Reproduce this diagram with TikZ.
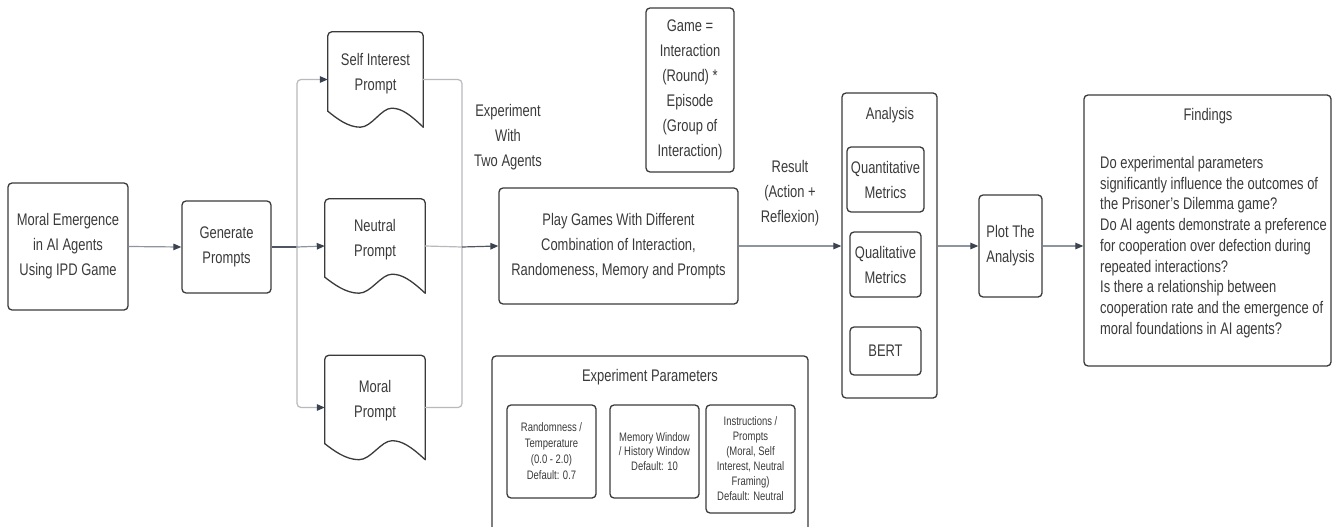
\documentclass[tikz,border=0pt]{standalone}
\usepackage{fontspec}
\setmainfont[FakeStretch=0.77]{Liberation Sans}
\usetikzlibrary{arrows.meta,calc}
\definecolor{ink}{HTML}{3A3A3A}
\definecolor{conn}{HTML}{8E959E}
\definecolor{dconn}{HTML}{4F5661}
\definecolor{lconn}{HTML}{B8B9BD}
\definecolor{tipc}{HTML}{3B4350}
\newcommand\docout[1]{%
  \draw[docline,rounded corners=4pt] ($(#1.south west)+(0,-16)$) -- (#1.north west) -- (#1.north east) -- (#1.south east);
  \draw[docline] (#1.south east)
    .. controls ($(#1.south west)!0.86!(#1.south east)+(0,-13)$) and ($(#1.south west)!0.77!(#1.south east)+(0,-19)$) .. ($(#1.south west)!0.67!(#1.south east)+(0,-19)$)
    .. controls ($(#1.south west)!0.56!(#1.south east)+(0,-19)$) and ($(#1.south west)!0.46!(#1.south east)$) .. ($(#1.south west)!0.34!(#1.south east)$)
    .. controls ($(#1.south west)!0.21!(#1.south east)$) and ($(#1.south west)!0.09!(#1.south east)+(0,-9)$) .. ($(#1.south west)+(0,-16)$);}
\begin{document}
\begin{tikzpicture}[x=1pt,y=-1pt,
  txt/.style={text=ink,align=center,inner sep=0pt,font=\fontsize{16.8}{25}\selectfont},
  box/.style={txt,draw=ink,line width=1.3pt,rounded corners=4pt},
  smallbox/.style={box,font=\fontsize{12.3}{15}\selectfont},
  docn/.style={inner sep=0pt,draw=none},
  docline/.style={draw=ink,line width=1.3pt,line cap=round},
  arr/.style={-{Triangle[length=8pt,width=6.5pt,color=tipc,fill=tipc]}},
  cn/.style={draw=conn,line width=1.2pt},
  dcn/.style={draw=dconn,line width=1.2pt},
  lcn/.style={draw=lconn,line width=1.2pt,rounded corners=4pt}
]
\useasboundingbox (0,0) rectangle (1333,527);

% main flow boxes
\node[box,minimum width=120pt,minimum height=127pt] (me) at (68,246.5) {Moral Emergence\\in AI Agents\\Using IPD Game};
\node[box,minimum width=89pt,minimum height=92pt] (gp) at (226.5,247) {Generate\\Prompts};

% prompt documents
\node[docn,minimum width=95pt,minimum height=95pt,label={[txt,yshift=6pt]center:{Self Interest\\Prompt}}] (si) at (375.5,79.5) {};
\node[docn,minimum width=100pt,minimum height=94pt,label={[txt,yshift=6pt]center:{Neutral\\Prompt}}] (np) at (375,246) {};
\node[docn,minimum width=100pt,minimum height=104pt,label={[txt,yshift=7pt]center:{Moral\\Prompt}}] (mp) at (375,407.5) {};
\docout{si}
\docout{np}
\docout{mp}

\coordinate (j1) at (297,247);
\coordinate (j2) at (462,247);

\node[txt] (lblexp) at (508,137) {Experiment\\With\\Two Agents};
\node[box,minimum width=88pt,minimum height=164pt] (game) at (690,90) {Game =\\Interaction\\(Round) *\\Episode\\(Group of\\Interaction)};
\node[box,minimum width=239pt,minimum height=116pt] (play) at (618.5,246) {Play Games With Different\\Combination of Interaction,\\Randomeness, Memory and Prompts};
\node[txt] (lblres) at (790,193) {Result\\(Action +\\Reflexion)};

% analysis
\node[box,minimum width=95pt,minimum height=305pt] (ana) at (889.5,245.5) {};
\node[txt] (anat) at (890,115) {Analysis};
\node[box,minimum width=77pt,minimum height=65pt] (quant) at (885.5,179.5) {Quantitative\\Metrics};
\node[box,minimum width=71pt,minimum height=65pt] (qual) at (885.5,264.5) {Qualitative\\Metrics};
\node[box,minimum width=71pt,minimum height=48pt] (bert) at (885.5,351) {BERT};

\node[box,minimum width=63pt,minimum height=102pt] (plot) at (1010.5,246) {Plot The\\Analysis};

% findings
\node[box,minimum width=247pt,minimum height=271pt] (fd) at (1207.5,230.5) {};
\node[txt] (fdt) at (1208,116) {Findings};
\node[txt,align=left,anchor=west,font=\fontsize{16.8}{20.7}\selectfont] (fdb) at (1100,247) {Do experimental parameters\\significantly influence the outcomes of\\the Prisoner's Dilemma game?\\Do AI agents demonstrate a preference\\for cooperation over defection during\\repeated interactions?\\Is there a relationship between\\cooperation rate and the emergence of\\moral foundations in AI agents?};

% experiment parameters (container runs off the bottom edge)
\coordinate (pbl) at (492,527);
\coordinate (pbr) at (808,527);
\draw[draw=ink,line width=1.3pt,rounded corners=4pt] (pbl) |- (808,356) -- (pbr);
\node[txt] (part) at (650,377) {Experiment Parameters};
\node[smallbox,minimum width=89pt,minimum height=93pt,font=\fontsize{12.3}{16}\selectfont] (p1) at (551.5,451.5) {Randomness /\\Temperature\\(0.0 - 2.0)\\Default: 0.7};
\node[smallbox,minimum width=89pt,minimum height=93pt,font=\fontsize{12.3}{14.5}\selectfont] (p2) at (654.5,451.5) {Memory Window\\/ History Window\\Default: 10};
\node[smallbox,minimum width=89pt,minimum height=108pt] (p3) at (750.5,459) {Instructions /\\Prompts\\(Moral, Self\\Interest, Neutral\\Framing)\\Default: Neutral};

% connectors
\draw[cn,arr] (me.east) -- (gp.west);
\draw[dcn] (gp.east) -- (j1);
\draw[lcn,arr] (j1) |- (si.west);
\draw[lcn,arr] (j1) |- (mp.west);
\draw[lcn,draw=conn,arr] (j1) -- (np.west);
\draw[lcn] (si.east) -| (j2);
\draw[lcn] (mp.east) -| (j2);
\draw[lcn] (np.east) -- (j2);
\draw[dcn,arr] (j2) -- (play.west);
\draw[cn,arr] (play.east) -- (play.east -| ana.west);
\draw[cn,arr] (ana.east |- plot.west) -- (plot.west);
\draw[cn,arr] (plot.east) -- (plot.east -| fd.west);
\end{tikzpicture}
\end{document}
